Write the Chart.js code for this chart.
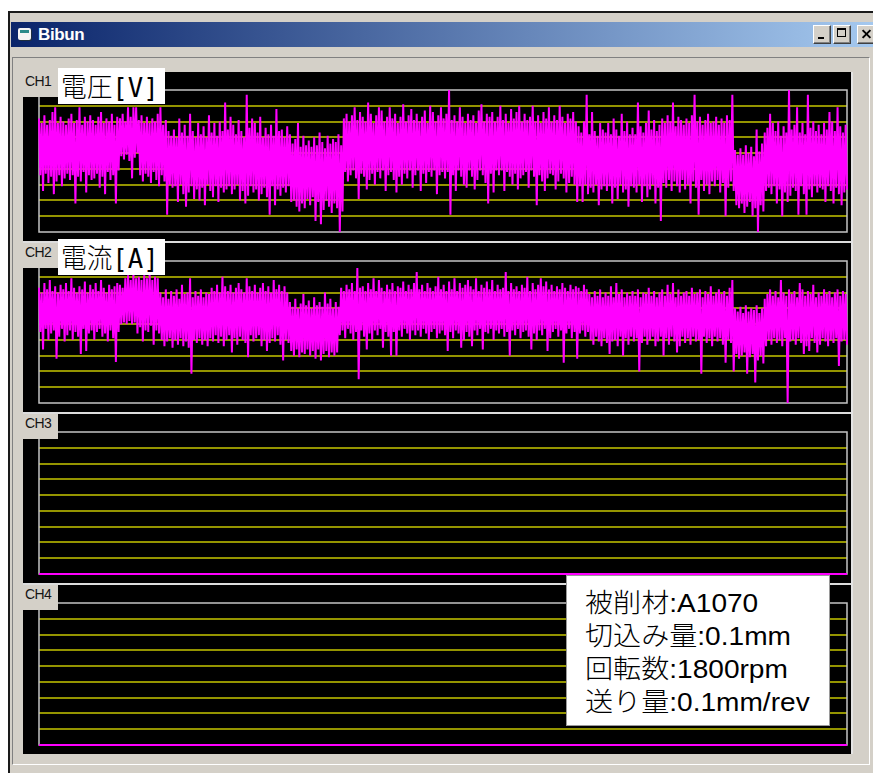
<!DOCTYPE html>
<html lang="ja">
<head>
<meta charset="utf-8">
<title>Bibun</title>
<script src="https://cdn.jsdelivr.net/npm/chart.js@4.4.1/dist/chart.umd.min.js"></script>
<style>
  html, body { margin: 0; padding: 0; }
  body { width: 873px; height: 773px; background: #fff; position: relative; overflow: hidden;
         font-family: "Liberation Sans", Arial, sans-serif; }
  #win { position: absolute; left: 8px; top: 11px; width: 880px; height: 780px; background: #d4d0c8;
         border-left: 2px solid #1a1a1a; border-top: 2px solid #1a1a1a; box-sizing: border-box; }
  #titlebar { position: absolute; left: 11px; top: 22px; width: 870px; height: 25px;
              background: linear-gradient(to right, #0a246a 0%, #a6caf0 100%); }
  #titletext { position: absolute; left: 38px; top: 25px; color: #fff; font: bold 17px "Liberation Sans", Arial, sans-serif;
               letter-spacing: -0.4px; line-height: 20px; }
  #icon { position: absolute; left: 18px; top: 28px; width: 13px; height: 12px; background: #f4f4f4;
          border-radius: 2px; box-shadow: 1px 1px 0 #203040; }
  #icon i { position: absolute; left: 2px; top: 2px; width: 9px; height: 3px; background: #2a8a8a; }
  .btn { position: absolute; top: 25px; width: 18px; height: 19px; background: #d4d0c8; box-sizing: border-box;
         border-top: 1px solid #fff; border-left: 1px solid #fff; border-right: 1px solid #404040; border-bottom: 1px solid #404040;
         box-shadow: inset -1px -1px 0 #808080; }
  .btn .g { position: absolute; background: #000; }
  #grp { position: absolute; left: 12px; top: 57px; width: 858px; height: 708px; box-sizing: border-box;
         border-top: 1px solid #808080; border-left: 1px solid #808080; border-right: 1px solid #fff; border-bottom: 1px solid #fff; }
  #scope { position: absolute; left: 23px; top: 72px; width: 828px; height: 682px; background: #000;
           border-right: 2px solid #e4e4e4; }
  #scope canvas { position: absolute; left: 0; }
  .sep { position: absolute; left: 0; width: 828px; height: 2px; background: #dcdcdc; }
  .chlabel { position: absolute; left: 0; width: 35px; height: 25px; background: #d4d0c8; color: #141414;
             font: 14px "Liberation Sans", Arial, sans-serif; letter-spacing: -0.6px; line-height: 15px; padding: 2px 0 0 2px; box-sizing: border-box; }
  .chtitle { position: absolute; left: 35px; width: 107px; height: 36px; background: #fff; overflow: hidden; }
  .chtitle span { position: absolute; left: 3px; top: 6px; font-size: 27px; line-height: 27px; color: #000; white-space: nowrap; font-weight: 300;
                  font-family: "DejaVu Sans Mono", "Noto Sans CJK JP", monospace; transform: scaleX(0.95); transform-origin: left top; }
  #info { position: absolute; left: 566px; top: 575px; width: 264px; height: 151px; background: #fff; box-sizing: border-box;
          border: 1px solid #9a9a9a; }
  #info div { position: absolute; left: 18px; white-space: nowrap; color: #000; font-size: 26px; line-height: 33px; font-weight: 300;
              font-family: "Liberation Sans", "Noto Sans CJK JP", sans-serif; transform: scaleX(1.08); transform-origin: left top; }
</style>
</head>
<body>
<div id="win"></div>
<div id="titlebar"></div>
<div id="icon"><i></i></div>
<div id="titletext">Bibun</div>
<div class="btn" style="left:813px"><div class="g" style="left:4px;top:11px;width:6px;height:2px"></div></div>
<div class="btn" style="left:833px"><div class="g" style="left:3px;top:2px;width:9px;height:9px;background:transparent;border:1px solid #000;border-top-width:2px;box-sizing:border-box"></div></div>
<div class="btn" style="left:857px"><div class="g" style="left:3px;top:7px;width:11px;height:2px;transform:rotate(45deg)"></div><div class="g" style="left:3px;top:7px;width:11px;height:2px;transform:rotate(-45deg)"></div></div>
<div id="grp"></div>

<div id="scope">
  <canvas id="ch1" width="828" height="169" style="top:0"></canvas>
  <canvas id="ch2" width="828" height="169" style="top:171px"></canvas>
  <canvas id="ch3" width="828" height="169" style="top:342px"></canvas>
  <canvas id="ch4" width="828" height="169" style="top:513px"></canvas>
  <div class="sep" style="top:169px"></div>
  <div class="sep" style="top:340px"></div>
  <div class="sep" style="top:511px"></div>
</div>
<div id="labels"></div>
<div id="info"></div>

<script>
// Sampled traces, in grid divisions (0 = bottom of the frame, 9 = top).
// Samples alternate between the upper and lower excursion of the signal.
const ch1Values = [
  7.2,3.6,6.9,2.6,7.4,3.7,6.8,3.1,7.1,3.5,7.6,2.4,7.9,3.2,6.9,3.6,7.3,2.9,7.0,3.4,
  6.8,3.7,7.2,3.3,7.5,3.6,6.9,1.8,7.1,3.5,7.9,3.2,6.8,3.8,7.3,2.5,7.0,3.6,7.4,3.3,
  7.1,3.4,6.8,3.7,7.3,2.8,7.6,3.5,6.9,2.4,7.2,3.8,7.0,3.3,7.5,3.6,6.8,1.8,7.3,3.9,
  7.2,4.8,7.5,4.6,7.0,4.9,7.9,4.5,7.3,3.4,7.9,4.7,7.9,5.0,7.1,3.6,7.4,3.2,6.9,3.7,
  7.3,3.5,6.9,3.1,7.2,3.8,7.0,3.3,7.5,2.9,7.9,3.6,6.8,3.2,7.1,1.1,6.4,3.0,6.1,2.8,
  6.5,2.9,6.0,1.9,7.2,3.0,6.3,2.4,6.8,1.6,6.1,2.5,7.5,2.9,6.4,2.1,6.0,2.7,6.9,2.0,
  6.2,2.8,6.7,1.7,6.0,3.0,7.4,2.6,6.3,2.2,6.9,2.9,6.1,1.9,7.0,2.8,6.4,2.5,8.2,2.7,
  6.5,2.9,7.3,2.4,6.8,2.7,6.2,3.0,7.1,2.0,6.4,2.6,6.0,1.8,8.7,2.3,6.6,2.9,7.2,2.5,
  6.9,2.7,6.3,2.0,7.3,2.4,6.0,2.8,6.6,2.2,6.2,1.1,6.8,2.9,6.1,1.7,7.8,2.7,6.4,2.3,
  6.5,2.8,6.0,2.5,6.7,2.9,6.2,1.9,5.6,2.0,5.9,1.6,6.9,1.3,5.4,1.8,6.1,1.5,5.5,2.1,
  5.8,1.7,5.4,2.2,6.0,0.7,5.5,1.9,6.3,0.5,5.7,1.4,5.3,2.0,6.1,1.6,5.6,1.2,5.9,1.8,
  5.7,1.5,6.2,0.0,5.5,1.3,7.2,3.8,7.5,3.2,7.0,3.6,7.4,3.9,7.9,3.4,7.1,2.1,7.6,3.7,
  7.3,3.5,7.0,2.7,8.2,3.3,7.5,3.7,6.9,3.0,7.4,3.8,7.9,3.4,7.7,3.9,7.0,2.6,7.3,3.6,
  7.9,3.8,7.2,3.3,7.5,2.5,6.9,3.5,7.3,3.0,8.1,3.7,7.0,3.4,7.4,3.9,7.8,2.8,7.1,3.6,
  7.5,3.9,7.0,2.6,7.3,3.7,7.7,3.1,6.9,3.8,8.0,3.5,7.6,3.9,7.0,2.4,7.4,3.6,7.9,3.8,
  7.2,3.4,7.5,3.8,9.0,1.1,7.1,3.6,7.4,2.6,7.0,3.9,7.9,3.5,7.3,3.0,6.9,2.8,7.5,3.9,
  7.1,3.5,7.4,2.7,6.9,3.3,7.7,3.9,8.1,3.6,7.0,3.1,7.5,1.8,7.3,3.7,7.6,2.5,7.0,3.9,
  7.3,3.6,8.0,3.9,7.1,2.6,7.5,3.8,6.9,3.5,7.8,3.0,7.2,3.7,7.6,2.7,8.0,3.4,7.0,3.6,
  7.5,3.8,7.1,2.8,7.3,3.9,8.0,3.5,7.0,1.7,7.4,3.6,6.9,3.2,7.6,2.6,7.2,3.4,7.9,3.7,
  7.0,3.6,7.4,2.7,7.1,3.2,8.0,3.7,7.3,3.4,6.9,2.5,7.5,3.1,7.2,3.5,7.6,3.0,7.0,1.9,
  6.7,2.9,6.3,1.9,7.0,3.0,8.7,2.4,6.2,2.8,7.6,2.5,6.4,3.0,6.1,1.7,6.9,2.7,6.5,2.9,
  6.3,2.6,6.9,2.9,6.2,1.8,7.2,2.8,6.5,2.1,6.1,3.0,7.5,2.5,6.4,2.7,7.0,1.6,6.2,2.9,
  6.6,2.8,6.2,2.5,8.2,3.0,6.7,1.9,6.3,2.9,6.9,2.2,7.7,2.7,6.5,3.0,7.1,1.8,6.4,2.8,
  6.8,0.7,7.2,3.1,6.9,2.8,7.4,3.3,7.0,2.6,8.2,3.2,6.7,2.9,7.3,2.5,7.1,3.3,6.8,2.7,
  7.2,3.0,6.9,1.8,7.4,3.2,8.7,2.8,7.0,1.1,7.3,3.3,6.8,2.6,7.1,3.0,7.5,2.4,6.9,3.2,
  7.0,2.9,7.3,3.3,6.8,2.5,7.2,3.1,6.9,1.0,7.4,2.8,7.1,3.2,8.7,2.6,5.2,1.7,4.9,1.5,
  5.3,1.8,4.9,1.2,5.5,1.6,5.0,1.9,5.4,1.0,4.8,1.5,6.5,0.0,5.1,1.7,5.6,1.3,6.3,2.6,
  6.6,2.8,7.5,2.4,6.9,2.9,6.4,1.8,7.0,2.7,6.1,1.0,6.7,2.5,6.3,1.9,9.0,2.3,6.5,2.8,
  6.8,2.6,7.9,1.1,6.3,2.9,6.9,2.4,6.2,1.1,8.7,2.7,6.6,2.2,7.0,2.9,6.4,2.5,6.8,2.8,
  6.2,2.7,6.9,1.9,6.5,2.9,7.6,2.6,7.0,1.8,6.4,2.8,7.9,2.4,6.7,1.7,6.3,2.5,6.8,2.7
];

const ch2Values = [
  7.3,4.5,7.0,3.4,7.6,4.7,7.2,4.0,7.8,4.4,7.1,4.6,7.4,2.8,7.0,4.2,7.5,4.7,7.2,3.9,
  7.6,4.3,7.1,4.6,7.9,4.0,7.3,4.5,7.0,4.2,7.4,3.1,7.2,4.7,7.7,3.3,7.0,4.4,7.5,4.6,
  7.2,4.0,7.6,4.5,7.1,4.7,7.8,4.2,7.3,4.4,7.0,3.9,7.5,4.6,7.2,4.1,7.4,2.6,7.6,4.5,
  7.5,5.0,7.3,5.1,7.9,5.0,8.1,5.2,7.8,5.0,8.2,5.1,7.9,4.4,8.0,4.8,7.8,3.9,8.1,4.6,
  7.9,4.5,8.2,4.9,7.8,3.7,8.0,4.6,7.9,4.4,7.0,4.0,6.7,3.6,7.2,3.9,6.6,4.1,7.1,3.5,
  6.8,4.0,7.2,3.7,6.6,4.1,7.5,3.6,6.9,3.9,7.0,3.5,7.9,1.85,6.7,4.0,7.1,3.8,6.8,4.1,
  7.2,3.7,6.7,4.0,7.0,3.6,6.9,4.1,7.3,3.9,7.1,4.3,7.5,3.8,7.0,4.2,8.0,3.6,7.4,4.0,
  7.1,4.3,7.5,3.2,7.0,4.1,7.3,3.7,7.6,4.2,7.2,4.0,7.0,3.8,7.9,2.9,7.4,4.3,7.1,3.9,
  7.5,4.1,7.0,4.3,7.3,3.6,7.6,4.0,7.1,3.3,7.4,3.8,7.0,4.1,7.8,3.9,7.2,4.3,7.5,3.7,
  7.1,2.7,7.4,4.0,7.0,3.8,6.4,3.3,6.1,3.0,6.6,3.4,6.0,2.9,6.3,3.2,6.9,3.1,6.2,3.4,
  6.5,3.0,6.0,3.3,6.7,2.8,6.2,3.4,6.4,2.7,6.1,3.1,7.0,3.3,6.3,2.9,6.6,3.2,6.0,3.0,
  6.4,3.2,6.1,4.3,7.3,4.6,7.1,4.1,7.5,4.7,7.2,4.4,7.6,4.0,7.1,4.5,8.55,1.5,7.3,4.6,
  7.4,4.2,7.1,3.4,7.6,4.4,7.2,4.0,7.9,4.6,7.1,4.3,7.8,4.7,7.3,3.5,7.1,4.5,7.5,4.2,
  7.2,3.0,7.6,4.5,7.1,3.0,7.4,4.6,7.3,4.2,7.7,4.7,7.1,4.4,7.5,4.0,7.2,4.6,7.6,4.3,
  8.3,4.6,7.2,4.2,7.5,4.7,7.1,4.4,7.6,4.0,7.3,4.5,7.1,4.7,7.4,4.1,8.0,4.4,7.2,4.6,
  7.5,4.3,7.1,3.3,7.7,4.5,7.2,4.1,7.9,4.6,7.1,4.4,7.6,3.5,7.3,4.0,7.5,4.5,7.8,4.2,
  7.4,3.6,7.2,4.6,7.9,4.3,7.1,4.7,7.5,3.4,7.3,4.5,7.7,4.4,7.2,4.7,7.8,4.0,7.1,4.6,
  7.5,4.4,7.2,4.7,7.3,4.2,8.3,4.5,7.1,3.0,7.6,4.6,7.2,4.3,7.4,4.7,7.1,4.1,7.5,4.5,
  7.3,4.6,8.0,4.2,7.1,3.4,7.6,4.4,7.2,4.0,7.5,4.6,7.9,4.3,7.4,4.7,7.7,3.3,7.2,4.1,
  7.5,4.5,7.1,4.7,7.4,4.2,7.2,4.6,7.6,2.55,7.3,4.4,7.1,4.7,7.5,4.1,7.2,4.5,7.4,2.8,
  7.3,4.4,7.1,4.6,7.5,4.2,7.2,4.5,6.9,4.0,6.7,3.7,7.1,4.2,6.8,3.9,7.2,3.6,6.7,4.1,
  7.0,3.8,6.8,3.1,7.4,3.9,6.7,4.0,7.6,3.6,6.9,4.2,7.2,3.0,6.7,4.1,7.0,3.7,6.8,4.2,
  7.1,3.9,6.8,4.1,7.2,2.0,6.7,3.8,7.0,4.2,6.9,3.7,7.3,4.0,6.8,4.2,7.1,3.6,6.7,3.9,
  7.0,4.2,7.2,3.0,6.8,4.1,7.5,3.7,6.9,4.2,7.6,3.9,6.7,3.2,7.2,3.6,6.8,4.2,7.0,3.8,
  7.1,4.1,6.8,3.7,7.3,4.2,6.9,3.9,7.0,4.0,7.2,1.85,6.7,4.2,7.1,3.8,6.9,4.1,7.4,3.6,
  6.8,4.2,7.0,3.9,7.2,4.1,6.9,3.7,7.1,2.55,6.8,4.0,7.3,3.8,7.8,2.0,6.0,3.1,5.8,2.8,
  6.1,3.0,5.7,3.2,6.2,1.85,5.8,2.9,6.0,3.1,5.9,1.3,6.2,2.7,5.7,3.0,6.0,2.5,6.6,3.6,
  6.9,4.0,7.2,3.7,6.8,4.1,7.1,3.8,6.7,4.0,7.8,3.6,7.0,4.1,6.8,0.0,7.2,3.9,6.9,4.0,
  7.1,3.7,6.7,4.1,7.6,3.8,7.2,3.1,6.8,3.6,7.1,3.3,6.9,4.1,7.5,3.8,6.7,3.2,7.0,3.7,
  6.8,4.1,7.2,3.9,6.9,3.6,7.1,4.0,6.7,3.8,7.0,4.1,7.2,2.35,6.8,3.9,7.1,4.0,6.9,3.7
];

// Channels 3 and 4 carry no signal: flat at zero.
const ch3Values = [0,0,0,0,0,0,0,0,0,0,0,0,0,0,0,0,0,0,0,0,0,0,0,0,0,0,0,0,0,0];
const ch4Values = [0,0,0,0,0,0,0,0,0,0,0,0,0,0,0,0,0,0,0,0,0,0,0,0,0,0,0,0,0,0];

const channelNames  = ['CH1', 'CH2', 'CH3', 'CH4'];
const channelTitles = ['電圧[V]', '電流[A]', '', ''];
const gridDivisions = [0, 1, 2, 3, 4, 5, 6, 7, 8, 9];
const conditionLines = ['被削材:A1070', '切込み量:0.1mm', '回転数:1800rpm', '送り量:0.1mm/rev'];

const TRACE = '#ff00ff';
const GRID = '#949400';
const FRAME = '#c4c4c4';

// Black screen behind the plot, plus the light frame around the plotting area.
const scopeFrame = {
  id: 'scopeFrame',
  beforeDraw(chart) {
    const { ctx, width, height } = chart;
    ctx.save();
    ctx.fillStyle = '#000';
    ctx.fillRect(0, 0, width, height);
    ctx.restore();
  },
  beforeDatasetsDraw(chart) {
    const { ctx, chartArea: a } = chart;
    ctx.save();
    ctx.strokeStyle = FRAME;
    ctx.lineWidth = 1.5;
    ctx.strokeRect(a.left, a.top, a.right - a.left, a.bottom - a.top);
    ctx.restore();
  }
};

function makeScope(canvasId, values, traceWidth) {
  return new Chart(document.getElementById(canvasId), {
    type: 'line',
    data: {
      labels: values.map((_, i) => i),
      datasets: [{
        data: values,
        borderColor: TRACE,
        borderWidth: traceWidth,
        borderJoinStyle: 'miter',
        pointRadius: 0,
        tension: 0,
        fill: false,
        clip: 2
      }]
    },
    options: {
      responsive: false,
      animation: false,
      devicePixelRatio: 1,
      events: [],
      layout: { padding: { left: 16, right: 4, top: 18, bottom: 9 } },
      plugins: { legend: { display: false }, tooltip: { enabled: false } },
      scales: {
        x: { type: 'category', display: false, offset: false },
        y: {
          min: gridDivisions[0],
          max: gridDivisions[gridDivisions.length - 1],
          afterBuildTicks(scale) { scale.ticks = gridDivisions.map(v => ({ value: v })); },
          afterFit(scale) { scale.width = 0; },
          ticks: { display: false },
          border: { display: false },
          grid: {
            drawTicks: false,
            lineWidth: 2,
            color(ctx) {
              const v = ctx.tick ? ctx.tick.value : null;
              return (v === gridDivisions[0] || v === gridDivisions[gridDivisions.length - 1]) ? 'rgba(0,0,0,0)' : GRID;
            }
          }
        }
      }
    },
    plugins: [scopeFrame]
  });
}

makeScope('ch1', ch1Values, 2);
makeScope('ch2', ch2Values, 2);
makeScope('ch3', ch3Values, 2);
makeScope('ch4', ch4Values, 2);

// Channel tags and signal names in the top-left corner of each screen.
const labelHost = document.getElementById('labels');
channelNames.forEach((name, i) => {
  const top = 72 + 171 * i;
  const tag = document.createElement('div');
  tag.className = 'chlabel';
  tag.style.left = '23px';
  tag.style.top = top + 'px';
  tag.textContent = name;
  labelHost.appendChild(tag);
  if (channelTitles[i]) {
    const box = document.createElement('div');
    box.className = 'chtitle';
    box.style.left = '58px';
    box.style.top = (top - 4) + 'px';
    const span = document.createElement('span');
    span.textContent = channelTitles[i];
    box.appendChild(span);
    labelHost.appendChild(box);
  }
});

// Cutting conditions panel.
const info = document.getElementById('info');
conditionLines.forEach((line, i) => {
  const d = document.createElement('div');
  d.style.top = (11 + 33 * i) + 'px';
  d.textContent = line;
  info.appendChild(d);
});
</script>
</body>
</html>
